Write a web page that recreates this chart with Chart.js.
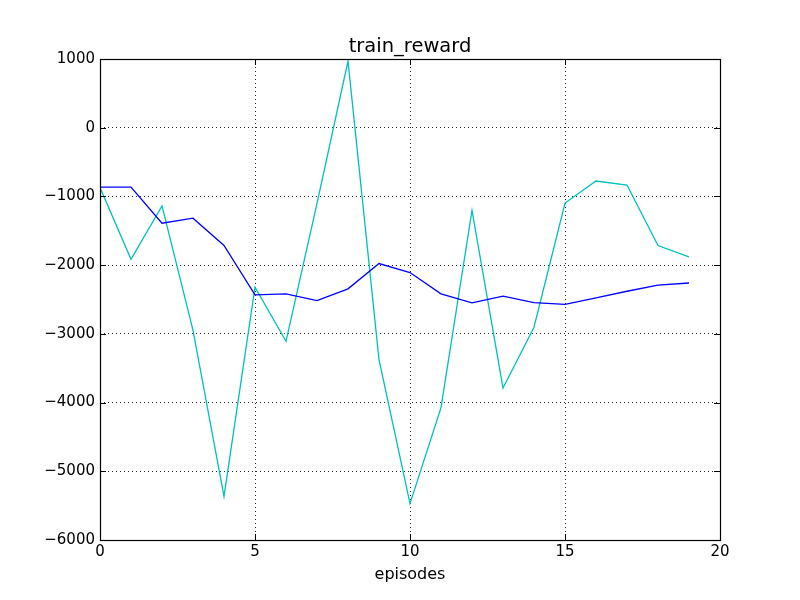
<!DOCTYPE html>
<html>
<head>
<meta charset="utf-8">
<script src="https://cdn.jsdelivr.net/npm/chart.js@4/dist/chart.umd.min.js"></script>
<style>
html,body{margin:0;padding:0;background:#fff;}
#wrap{width:800px;height:600px;position:relative;}
</style>
</head>
<body>
<div id="wrap"><canvas id="c" width="800" height="600"></canvas></div>
<script>
const episodes = [0,1,2,3,4,5,6,7,8,9,10,11,12,13,14,15,16,17,18,19];
const rewardValues = [-870,-1914,-1137,-2950,-5364,-2321,-3108,-1100,970,-3375,-5470,-4073,-1204,-3787,-2904,-1096,-776,-834,-1714,-1880];
const averageValues = [-865,-865,-1390,-1316,-1714,-2433,-2418,-2516,-2345,-1977,-2108,-2418,-2550,-2452,-2545,-2570,-2477,-2380,-2292,-2260];
const xTickValues = [0,5,10,15,20];
const yTickValues = [1000,0,-1000,-2000,-3000,-4000,-5000,-6000];
const titleText = 'train_reward';
const xLabelText = 'episodes';

const FONT = "'DejaVu Sans', sans-serif";
const fmt = v => (v < 0 ? '\u2212' + Math.abs(v) : String(v));

const framePlugin = {
  id: 'frame',
  beforeDraw(chart) {
    const ctx = chart.ctx;
    ctx.save();
    ctx.fillStyle = '#ffffff';
    ctx.fillRect(0, 0, chart.width, chart.height);
    ctx.restore();
  },
  afterDraw(chart) {
    const ctx = chart.ctx;
    const a = chart.chartArea;
    const xs = chart.scales.x, ys = chart.scales.y;
    const L = 6;
    ctx.save();
    ctx.strokeStyle = '#000';
    ctx.lineWidth = 1;
    ctx.beginPath();
    xTickValues.forEach(v => {
      const p = Math.round(xs.getPixelForValue(v)) + 0.5;
      ctx.moveTo(p, a.bottom); ctx.lineTo(p, a.bottom - L);
      ctx.moveTo(p, a.top); ctx.lineTo(p, a.top + L);
    });
    yTickValues.forEach(v => {
      const p = Math.round(ys.getPixelForValue(v)) + 0.5;
      ctx.moveTo(a.left, p); ctx.lineTo(a.left + L, p);
      ctx.moveTo(a.right, p); ctx.lineTo(a.right - L, p);
    });
    ctx.stroke();
    ctx.lineWidth = 1.2;
    ctx.strokeRect(Math.round(a.left) + 0.5, Math.round(a.top) + 0.5,
                   Math.round(a.right - a.left), Math.round(a.bottom - a.top));
    ctx.restore();
  }
};

new Chart(document.getElementById('c'), {
  type: 'line',
  data: {
    datasets: [
      {
        label: 'average',
        data: episodes.map((e, i) => ({x: e, y: averageValues[i]})),
        borderColor: '#0000ff',
        borderWidth: 1.3,
        pointRadius: 0,
        tension: 0,
        fill: false,
        order: 0
      },
      {
        label: 'reward',
        data: episodes.map((e, i) => ({x: e, y: rewardValues[i]})),
        borderColor: '#00bfbf',
        borderWidth: 1.3,
        pointRadius: 0,
        tension: 0,
        fill: false,
        order: 1
      }
    ]
  },
  options: {
    responsive: false,
    animation: false,
    devicePixelRatio: 1,
    layout: { padding: { left: 40, right: 20, top: 0, bottom: 0 } },
    plugins: {
      legend: { display: false },
      tooltip: { enabled: false },
      title: {
        display: true,
        text: titleText,
        color: '#000',
        font: { family: FONT, size: 19.5, weight: 'normal', lineHeight: 1.2 },
        padding: { top: 35.6, bottom: 0 }
      }
    },
    scales: {
      x: {
        type: 'linear',
        min: 0, max: 20,
        afterFit(s) { s.height = 60; },
        afterBuildTicks(s) { s.ticks = xTickValues.map(v => ({value: v})); },
        ticks: {
          color: '#000',
          font: { family: FONT, size: 15 },
          padding: 2.8,
          maxRotation: 0,
          callback: v => fmt(v)
        },
        grid: { color: 'rgba(0,0,0,0.85)', lineWidth: 1, drawTicks: false },
        border: { display: false, dash: [1, 3] },
        title: {
          display: true,
          text: xLabelText,
          color: '#000',
          font: { family: FONT, size: 16, lineHeight: 1.2 },
          padding: { top: 0, bottom: 15.5 }
        }
      },
      y: {
        type: 'linear',
        min: -6000, max: 1000,
        afterFit(s) { s.width = 60; },
        afterBuildTicks(s) { s.ticks = yTickValues.map(v => ({value: v})); },
        ticks: {
          color: '#000',
          font: { family: FONT, size: 15 },
          padding: 5,
          callback: v => fmt(v)
        },
        grid: { color: 'rgba(0,0,0,0.85)', lineWidth: 1, drawTicks: false },
        border: { display: false, dash: [1, 3] }
      },
      yRight: {
        type: 'linear',
        position: 'right',
        min: -6000, max: 1000,
        afterFit(s) { s.width = 60; },
        ticks: { display: false },
        grid: { display: false, drawTicks: false },
        border: { display: false }
      }
    }
  },
  plugins: [framePlugin]
});
</script>
</body>
</html>
